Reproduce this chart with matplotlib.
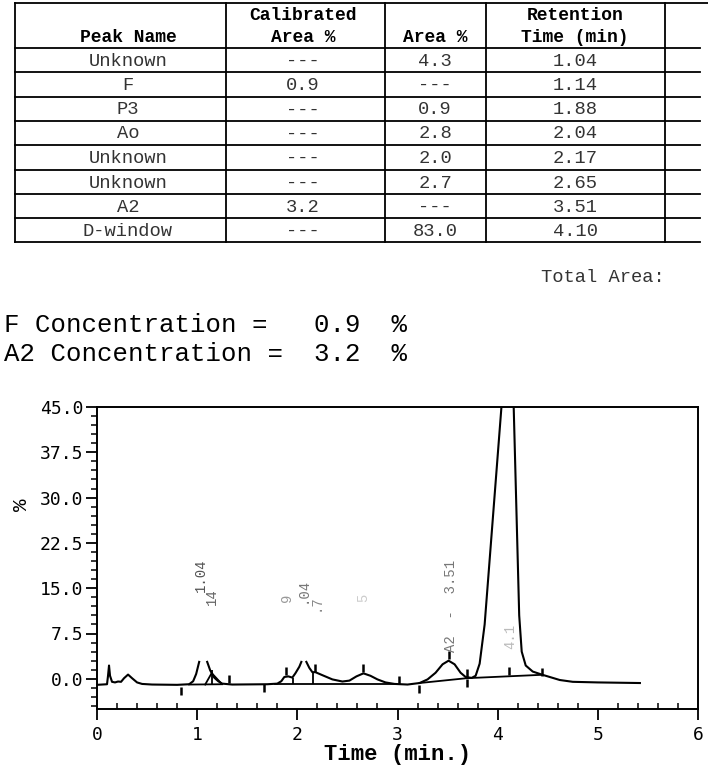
#!/usr/bin/env python3
# -*- coding: utf-8 -*-
import numpy as np
import matplotlib

matplotlib.use("Agg")
from matplotlib import pyplot as plt

MONO = ["Liberation Mono", "DejaVu Sans Mono"]
SANS_MONO = ["DejaVu Sans Mono", "Liberation Mono"]

# table content
peak_names = ["Unknown", "F", "P3", "Ao", "Unknown", "Unknown", "A2", "D-window"]
calibrated_area = ["---", "0.9", "---", "---", "---", "---", "3.2", "---"]
area_pct = ["4.3", "---", "0.9", "2.8", "2.0", "2.7", "---", "83.0"]
retention = ["1.04", "1.14", "1.88", "2.04", "2.17", "2.65", "3.51", "4.10"]

concentrations = [("F", "0.9"), ("A2", "3.2")]

# chromatogram trace (NaN = gap where the top is missing)
trace_t = [0.00, 0.10, 0.11, 0.12, 0.13, 0.15, 0.18, 0.21, 0.24, 0.27, 0.31,
           0.35, 0.40, 0.45, 0.55, 0.80, 0.92, 0.96, 0.99, 1.02, np.nan,
           1.10, 1.13, 1.17, 1.21, 1.25, 1.35, 1.70, 1.80, 1.84, 1.87, 1.91,
           1.95, 1.98, 2.02, 2.04, np.nan,
           2.09, 2.12, 2.15, 2.18, 2.25, 2.35, 2.45, 2.52, 2.59, 2.66, 2.73,
           2.80, 2.88, 2.97, 3.10, 3.22, 3.30, 3.38, 3.45, 3.51, 3.57, 3.63,
           3.68, 3.74, 3.78, 3.82, 3.87, 4.04, 4.12, 4.16, 4.215, 4.24, 4.28,
           4.35, 4.44, 4.52, 4.62, 4.75, 5.00, 5.42]
trace_y = [-1.0, -0.9, 0.5, 2.2, 0.5, -0.5, -0.6, -0.45, -0.5, 0.1, 0.7,
           0.1, -0.6, -0.85, -0.95, -1.0, -0.9, -0.4, 0.8, 2.8, np.nan,
           2.8, 1.4, 0.2, -0.4, -0.8, -0.95, -0.9, -0.8, -0.4, 0.3, 0.4,
           0.2, 0.9, 2.0, 2.8, np.nan,
           2.8, 1.8, 1.1, 1.1, 0.6, -0.1, -0.45, -0.3, 0.4, 0.9, 0.5,
           -0.1, -0.6, -0.85, -0.95, -0.7, -0.1, 1.0, 2.4, 3.0, 2.4, 1.0,
           0.3, 0.15, 0.5, 2.5, 9.0, 45.5, 60.0, 45.0, 10.5, 4.5, 2.2,
           1.2, 0.7, 0.3, -0.2, -0.5, -0.6, -0.7]

# rider peak F
rider_t = [1.08, 1.145, 1.24]
rider_y = [-0.95, 0.95, -0.75]

# drawn baselines
base_segments = [
    ([0.92, 1.25], [-0.95, -0.9]),
    ([1.78, 2.98], [-0.85, -0.85]),
    ([3.22, 3.69, 4.44], [-0.7, 0.1, 0.66]),
]

# drop lines (time, bottom, top)
drop_t = [1.145, 1.96, 2.155]
drop_lo = [-0.95, -0.85, -0.85]
drop_hi = [1.4, 0.2, 1.1]

# event marks
mark_t = [0.84, 1.32, 1.67, 1.89, 2.18, 2.66, 3.01, 3.21, 3.51, 3.69, 3.69, 4.11, 4.44]
mark_y = [-2.0, 0.0, -1.6, 1.3, 1.8, 1.8, -0.2, -1.7, 3.9, 0.9, -0.7, 1.3, 1.2]

# faded peak labels
label_text = ["1.04", "14", "9", ".04", ".7", "5", "A2  -  3.51", "4.1"]
label_t = [1.04, 1.15, 1.90, 2.05, 2.18, 2.66, 3.53, 4.13]
label_y = [17.2, 13.6, 13.4, 14.7, 12.6, 13.4, 12.1, 7.0]
label_col = ["#555555", "#666666", "#999999", "#777777", "#888888", "#cccccc",
             "#777777", "#bbbbbb"]

W, H = 708, 769
fig = plt.figure(figsize=(W / 100, H / 100), dpi=100)

# ---- page overlay in pixel coords (table + text)
pg = fig.add_axes([0, 0, 1, 1])
pg.set_xlim(0, W)
pg.set_ylim(H, 0)
pg.axis("off")

col_edges = [15, 226, 385, 486, 665]
col_mid = [128, 303, 435, 575]
row_edges = [48, 72, 97, 121, 145, 170, 194, 218, 242]
lw = 1.3
pg.plot([15, W], [3, 3], color="black", lw=lw)
for y in row_edges:
    pg.plot([15, 700], [y, y], color="black", lw=lw)
for x in col_edges:
    pg.plot([x, x], [3, 242], color="black", lw=lw)

hdr = dict(family=MONO, fontsize=13, weight="bold", ha="center", va="center")
pg.text(col_mid[0], 38, "Peak Name", **hdr)
pg.text(col_mid[1], 15, "Calibrated", **hdr)
pg.text(col_mid[1], 38, "Area %", **hdr)
pg.text(col_mid[2], 38, "Area %", **hdr)
pg.text(col_mid[3], 15, "Retention", **hdr)
pg.text(col_mid[3], 38, "Time (min)", **hdr)

cell = dict(family=MONO, fontsize=13.5, ha="center", va="center", color="#333333")
for i, row in enumerate(zip(peak_names, calibrated_area, area_pct, retention)):
    yc = (row_edges[i] + row_edges[i + 1]) / 2 + 1
    for j, val in enumerate(row):
        pg.text(col_mid[j], yc, val, **cell)

pg.text(665, 277, "Total Area:", family=MONO, fontsize=13.5, ha="right",
        va="center", color="#333333")

for k, (name, val) in enumerate(concentrations):
    line = f"{name} Concentration =".ljust(20) + f"{val}  %"
    pg.text(4, 325 + k * 29, line, family=MONO, fontsize=18.5, ha="left",
            va="center", color="black")

# ---- chromatogram axes
ax = fig.add_axes([97 / W, 1 - 709 / H, 601 / W, 302 / H])
ax.plot(trace_t, trace_y, color="black", lw=1.5)
ax.plot(rider_t, rider_y, color="black", lw=1.3)
for bt, by in base_segments:
    ax.plot(bt, by, color="black", lw=1.3)
ax.vlines(drop_t, drop_lo, drop_hi, color="black", lw=1.3)
ax.plot(mark_t, mark_y, ls="none", marker="|", ms=6, mew=1.8, color="black")
for txt, tx, ty, c in zip(label_text, label_t, label_y, label_col):
    ax.text(tx, ty, txt, rotation=90, family=MONO, fontsize=10, color=c,
            ha="center", va="center")

ax.set_xlim(0, 6)
ax.set_ylim(-5, 45)
yt = [0.0, 7.5, 15.0, 22.5, 30.0, 37.5, 45.0]
ax.set_yticks(yt)
ax.set_yticklabels([f"{v:.1f}" for v in yt])
ax.set_yticks(np.arange(-4.5, 45, 1.5), minor=True)
ax.set_xticks(range(7))
ax.set_xticks(np.arange(0, 6.01, 0.2), minor=True)
for lab in ax.get_xticklabels() + ax.get_yticklabels():
    lab.set_family(SANS_MONO)
    lab.set_fontsize(13)
ax.tick_params(axis="y", which="major", direction="out", length=8, width=1.3, pad=2)
ax.tick_params(axis="y", which="minor", direction="out", length=4, width=1.1)
ax.tick_params(axis="x", which="major", direction="out", length=8, width=1.3, pad=4)
ax.tick_params(axis="x", which="minor", direction="in", length=4, width=1.1)
for s in ax.spines.values():
    s.set_linewidth(1.4)

ax.set_xlabel("Time (min.)", family=MONO, fontsize=16, weight="bold")
ax.xaxis.set_label_coords(0.5, -0.115)
ax.set_ylabel("%", family=MONO, fontsize=15, rotation=90)
ax.yaxis.set_label_coords(-0.11, 0.675)

fig.savefig("out.png", dpi=100)
